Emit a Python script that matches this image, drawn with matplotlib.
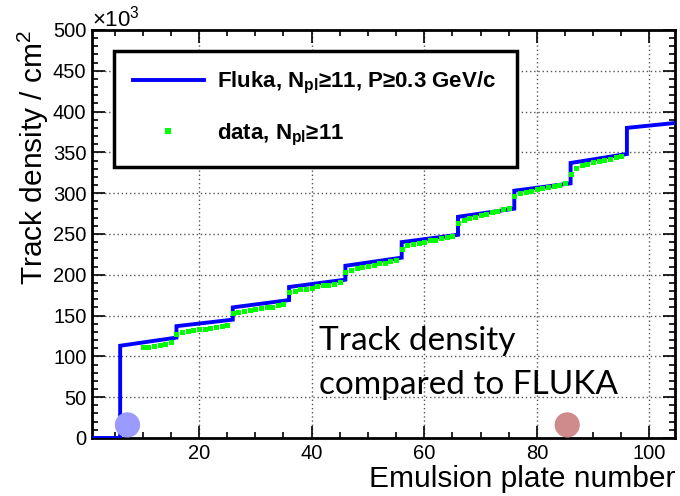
import matplotlib
matplotlib.use("Agg")
import matplotlib.pyplot as plt
from matplotlib.lines import Line2D
import numpy as np

plt.rcParams['font.family'] = ['Liberation Sans', 'DejaVu Sans']
plt.rcParams['mathtext.fontset'] = 'custom'
plt.rcParams['mathtext.rm'] = 'Liberation Sans'
plt.rcParams['mathtext.bf'] = 'Liberation Sans:bold'
plt.rcParams['mathtext.it'] = 'Liberation Sans:italic'

# FLUKA prediction: flat 0 before first plate group, then one linear piece per group of 10 plates
fluka_start = [6, 16, 26, 36, 46, 56, 66, 76, 86, 96]
fluka_end = [16, 26, 36, 46, 56, 66, 76, 86, 96, 104.5]
fluka_lo = [113, 137, 160, 185, 211, 240, 271, 303, 337, 380]
fluka_hi = [123, 145, 169, 194, 221, 249, 281, 312, 348, 386]

# measured track density per plate (x10^3 / cm^2)
data_plate = list(range(10, 96))
data_density = [111, 112, 113, 114, 115, 117,
                128, 130, 131, 132, 133, 134, 135, 136, 137, 139,
                153, 154, 156, 157, 158, 159, 160, 161, 163, 164,
                179, 180, 182, 183, 184, 186, 187, 188, 189, 191,
                204, 206, 208, 209, 211, 212, 214, 215, 217, 218,
                231, 236, 238, 239, 240, 242, 243, 245, 246, 248,
                263, 267, 269, 271, 273, 275, 277, 278, 280, 282,
                296, 300, 302, 303, 305, 306, 307, 309, 310, 312,
                324, 331, 334, 336, 338, 339, 341, 342, 344, 345]

# slide decoration dots
dot_x = [7.3, 85.4]
dot_y = [16, 16]
dot_colors = ['#9a9aff', '#cf8b8b']

fig = plt.figure(figsize=(6.8, 4.96), dpi=100)
ax = fig.add_axes([0.1353, 0.117, 0.857, 0.8226])

# build step line
xs = [1, fluka_start[0]]
ys = [0, 0]
for s, e, lo, hi in zip(fluka_start, fluka_end, fluka_lo, fluka_hi):
    xs += [s, e]
    ys += [lo, hi]
ax.plot(xs, ys, color='#0000ff', lw=2.8, solid_joinstyle='miter', zorder=3)
ax.plot(data_plate, data_density, 's', color='#00ff00', ms=3.6, mew=0, zorder=4)

ax.scatter(dot_x, dot_y, s=330, c=dot_colors, edgecolors='none', zorder=5, clip_on=False)

ax.set_xlim(1, 104.5)
ax.set_ylim(0, 500)
ax.set_xticks([20, 40, 60, 80, 100])
ax.set_xticks(np.arange(5, 105, 5), minor=True)
ax.set_yticks(np.arange(0, 501, 50))
ax.set_yticks(np.arange(0, 501, 10), minor=True)
ax.tick_params(which='both', direction='in', top=True, right=True, labelsize=14.5, width=1.2, pad=4)
ax.tick_params(which='major', length=9)
ax.tick_params(which='minor', length=4.5)
ax.grid(True, which='major', linestyle=(0, (1, 2)), color='#555555', lw=1)
for sp in ax.spines.values():
    sp.set_linewidth(2)

fig.text(92 / 680, 1 - 27 / 496, r'$\times$10$^3$', fontsize=16, ha='left', va='baseline')
fig.text(33 / 680, 1 - 30 / 496, r'Track density / cm$^2$', fontsize=21.5, rotation=90,
         ha='center', va='top')
fig.text(675 / 680, 1 - 487 / 496, 'Emulsion plate number', fontsize=21.5, ha='right', va='baseline')

handles = [Line2D([], [], color='#0000ff', lw=2.8),
           Line2D([], [], marker='s', color='#00ff00', ls='none', ms=4, mew=0)]
labels = [r'Fluka, N$_\mathbf{pl}$≥11, P≥0.3 GeV/c', r'data, N$_\mathbf{pl}$≥11']
leg = ax.legend(handles, labels, loc='upper left', mode='expand',
                bbox_to_anchor=(0.0377, 0.681, 0.6913, 0.2675), borderaxespad=0,
                prop={'size': 16, 'weight': 'bold'}, handlelength=3.2, handletextpad=0.6,
                labelspacing=1.15, borderpad=0.85, fancybox=False, framealpha=1,
                edgecolor='black')
leg.get_frame().set_linewidth(2.5)
leg.set_zorder(6)

ax.text(0.389, 0.093, 'Track density\ncompared to FLUKA', transform=ax.transAxes,
        fontsize=24, family=['Lato', 'DejaVu Sans'], ha='left', va='bottom',
        linespacing=1.6, zorder=7)

fig.savefig('out.png', dpi=100)
